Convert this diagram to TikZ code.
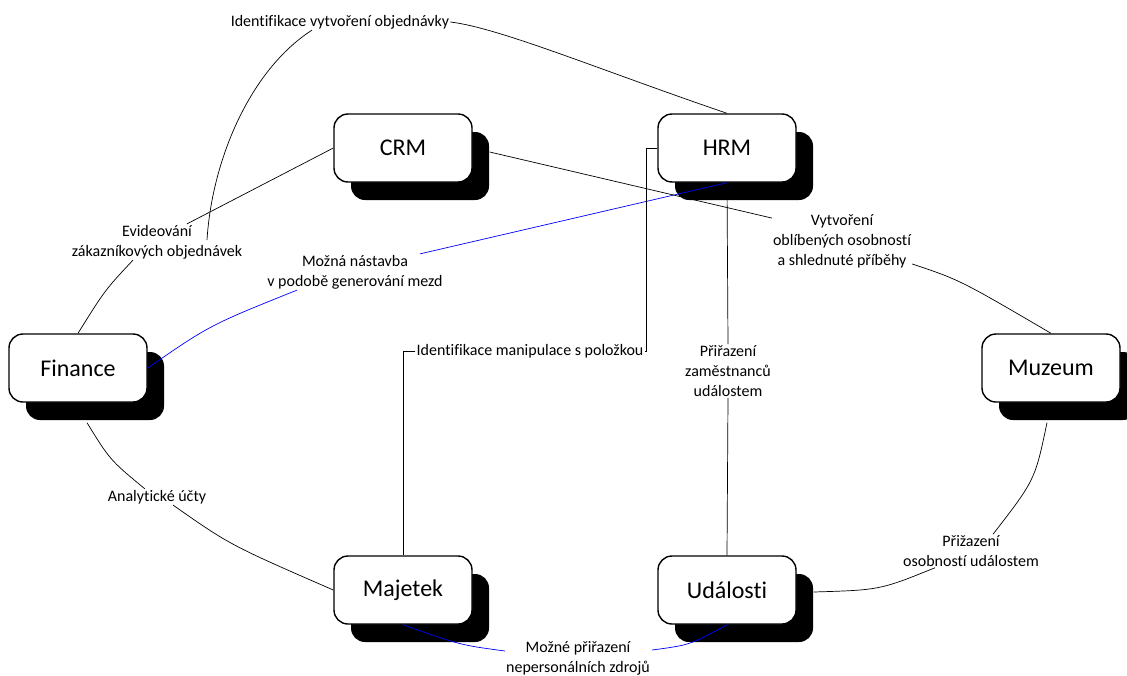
\documentclass[tikz,border=0pt]{standalone}
\usepackage{fontspec}
\setmainfont{Carlito}[Ligatures = {NoCommon}]
\usepackage{xcolor}
\usepackage{tikz}
\usetikzlibrary{shadows}
\definecolor{cistamodra}{RGB}{0, 0, 255}

\tikzset{
  modul/.style = {draw, line width = 1.4pt, fill = white, rounded corners = 14pt,
    minimum width = 138pt, minimum height = 68pt, font = \fontsize{24}{28}\selectfont,
    drop shadow = {shadow xshift = 17pt, shadow yshift = -18pt, opacity = 1, fill = black}},
  popis/.style = {align = center, inner sep = 1pt, font = \fontsize{16}{20}\selectfont},
  spoj/.style = {line width = 0.7pt},
  modra/.style = {spoj, draw = cistamodra}
}

\begin{document}
\begin{tikzpicture}[x = 1pt, y = -1pt]
			\useasboundingbox (0,0) rectangle (1127,675);
			% moduly
			\node (crm) at (403,148) [modul] {CRM};
			\node (hrm) at (727,148) [modul] {HRM};
			\node (fin) at (78,368) [modul] {Finance};
			\node (muz) at (1051,368) [modul] {Muzeum};
			\node (maj) at (403,590) [modul] {Majetek};
			\node (udal) at (727,590) [modul] {Události};
			% popisy vazeb
			\node (lobj) at (340,22) [popis] {Identifikace vytvoření objednávky};
			\node (levid) at (157,242) [popis] {Evideování\\zákazníkových objednávek};
			\node (lmzdy) at (355,272) [popis] {Možná nástavba\\v podobě generování mezd};
			\node (losob) at (842,241) [popis] {Vytvoření\\oblíbených osobností\\a shlednuté příběhy};
			\node (lzam) at (728,371) [popis] {Přiřazení\\zaměstnanců\\událostem};
			\node (lmanip) at (530,351) [popis] {Identifikace manipulace s položkou};
			\node (lanal) at (157,497) [popis] {Analytické účty};
			\node (lprij) at (971,551) [popis] {Přižazení\\osobností událostem};
			\node (lzdroj) at (578,658) [popis] {Možné přiřazení\\nepersonálních zdrojů};
			\coordinate (konec) at (207,240);
			% vazby
			\draw[spoj] (lobj.east) .. controls (500,28) and (600,70) .. (hrm.north);
			\draw[spoj] ([xshift = -28pt]lobj.south) .. controls (250,70) and (212,160) .. (konec);
			\draw[spoj] (crm.west) -- ([xshift = 30pt]levid.north);
			\draw[spoj] ([xshift = -24pt]levid.south) .. controls (105,290) .. (fin.north);
			\draw[modra] (fin.east) .. controls (210,325) .. ([xshift = -58pt]lmzdy.south);
			\draw[modra] ([xshift = 65pt]lmzdy.north) -- (hrm.south);
			\draw[spoj] ([shift = {(17pt,-4pt)}]crm.east) -- ([yshift = -5pt]losob.north west);
			\draw[spoj] ([yshift = 5pt]losob.south east) .. controls (960,280) .. (muz.north);
			\draw[spoj] (hrm.south) -- (lzam.north);
			\draw[spoj] (lzam.south) -- (udal.north);
			\draw[spoj] (hrm.west) -- ++(-11,0) |- (lmanip.east);
			\draw[spoj] (lmanip.west) -| (maj.north);
			\draw[spoj] ([shift = {(9pt,-20pt)}]fin.south) .. controls (110,460) .. ([xshift = -12pt]lanal.north);
			\draw[spoj] ([xshift = 16pt]lanal.south) .. controls (230,545) .. (maj.west);
			\draw[spoj] ([shift = {(-4pt,-20pt)}]muz.south) .. controls (1035,480) .. ([xshift = 22pt]lprij.north);
			\draw[spoj] ([xshift = -36pt]lprij.south) .. controls (880,590) .. ([shift = {(17pt,-2pt)}]udal.east);
			\draw[modra] (maj.south) .. controls (460,645) .. ([shift = {(-73pt,7pt)}]lzdroj.center);
			\draw[modra] ([shift = {(74pt,8pt)}]lzdroj.center) .. controls (690,645) .. (udal.south);
\end{tikzpicture}
\end{document}
